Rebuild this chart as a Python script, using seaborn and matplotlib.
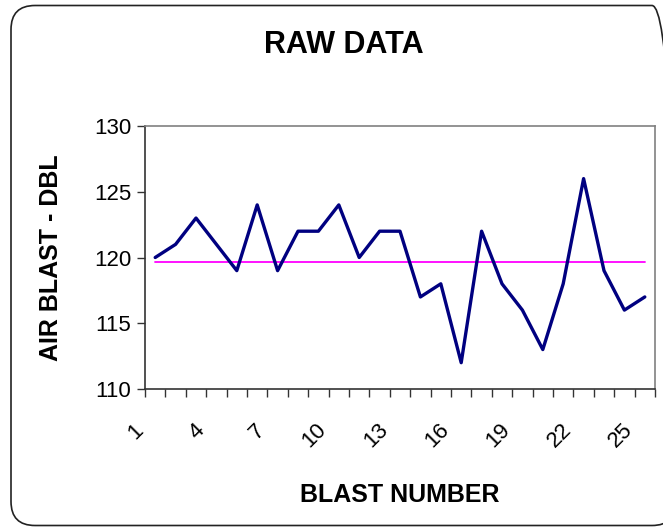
import numpy as np
import pandas as pd
import matplotlib
matplotlib.use("Agg")
import matplotlib.pyplot as plt
import matplotlib.transforms as mtransforms
from matplotlib.patches import FancyBboxPatch
from matplotlib.ticker import FixedLocator
import seaborn as sns

# ==========================================
# DATA
# ==========================================

blast_number = list(range(1, 26))
air_blast = [120, 121, 123, 121, 119, 124, 119, 122, 122, 124, 120, 122, 122,
             117, 118, 112, 122, 118, 116, 113, 118, 126, 119, 116, 117]
tick_numbers = [1, 4, 7, 10, 13, 16, 19, 22, 25]

df = pd.DataFrame({"Blast": blast_number, "DBL": air_blast})
df["pos"] = np.arange(len(df))
df["Mean"] = np.mean(air_blast)

# ==========================================
# STYLE
# ==========================================

sns.set_style("white")
plt.rcParams["font.family"] = ["Liberation Sans", "DejaVu Sans"]
plt.rcParams["text.color"] = "black"
plt.rcParams["axes.labelcolor"] = "black"
plt.rcParams["xtick.color"] = "black"
plt.rcParams["ytick.color"] = "black"

fig = plt.figure(figsize=(6.63, 5.27), dpi=100)
ax = fig.add_axes([145 / 663, 1 - 389 / 527, 510 / 663, 263 / 527])

# ==========================================
# PLOT
# ==========================================

sns.lineplot(data=df, x="pos", y="Mean", ax=ax, color="#FF00FF",
             linewidth=1.3)
sns.lineplot(data=df, x="pos", y="DBL", ax=ax, color="#000080",
             linewidth=2.4)

ax.set_xlim(-0.5, len(df) - 0.5)
ax.set_ylim(110, 130)
ax.set_yticks([110, 115, 120, 125, 130])
ax.tick_params(axis="y", labelsize=16, length=6, width=1,
               color="#333333", pad=4, direction="out", left=True)

# category labels at centres, tick marks on boundaries
label_pos = [blast_number.index(n) for n in tick_numbers]
ax.xaxis.set_major_locator(FixedLocator(label_pos))
ax.set_xticklabels([str(n) for n in tick_numbers])
ax.xaxis.set_minor_locator(FixedLocator(np.arange(-0.5, len(df), 1)))
ax.tick_params(axis="x", which="major", length=0, labelsize=16, pad=22)
ax.tick_params(axis="x", which="minor", length=6, width=1,
               color="#333333", direction="out", bottom=True)
shift = mtransforms.ScaledTranslation(-8 / 100, 0, fig.dpi_scale_trans)
for lab in ax.get_xticklabels():
    lab.set_rotation(45)
    lab.set_ha("right")
    lab.set_va("top")
    lab.set_transform(lab.get_transform() + shift)

for side in ["left", "bottom"]:
    ax.spines[side].set_color("#333333")
    ax.spines[side].set_linewidth(1.2)
for side in ["top", "right"]:
    ax.spines[side].set_color("#808080")
    ax.spines[side].set_linewidth(1.2)

ax.set_xlabel("BLAST NUMBER", fontsize=18, fontweight="bold")
ax.set_ylabel("AIR BLAST - DBL", fontsize=18, fontweight="bold")
ax.xaxis.set_label_coords(0.5, -0.357)
ax.yaxis.set_label_coords(-0.16, 0.5)

fig.text(344 / 663, 1 - 45 / 527, "RAW DATA", fontsize=22,
         fontweight="bold", ha="center", va="center")

# rounded chart-area frame
frame = FancyBboxPatch((0.11, 0.015), 6.65, 5.2,
                       boxstyle="round,pad=0,rounding_size=0.24",
                       transform=fig.dpi_scale_trans, fill=False,
                       edgecolor="#222222", linewidth=1.2, zorder=0)
fig.patches.append(frame)

fig.savefig("out.png", dpi=100)
